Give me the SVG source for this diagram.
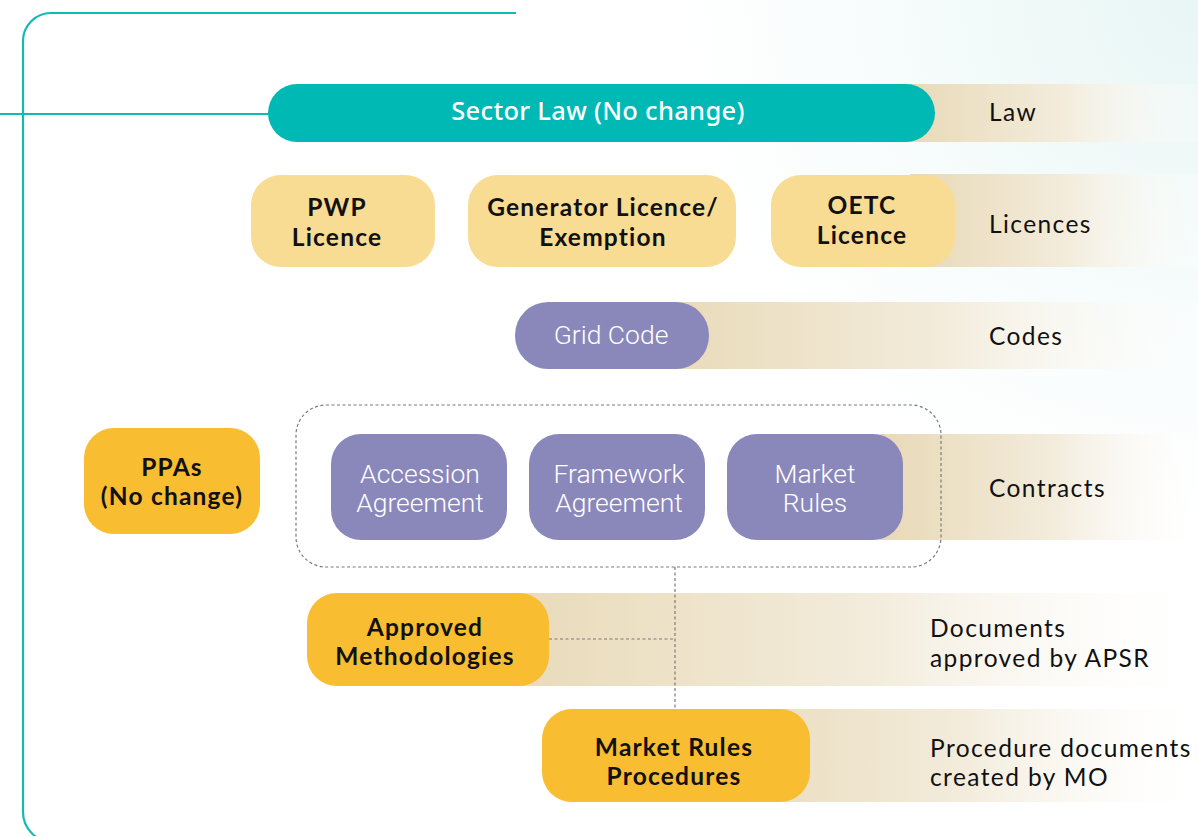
<svg xmlns="http://www.w3.org/2000/svg" width="1198" height="836" viewBox="0 0 1198 836">
  <defs>
    <radialGradient id="bgGlow" cx="1198" cy="0" r="520" gradientUnits="userSpaceOnUse">
      <stop offset="0" stop-color="#e8f6f5"/>
      <stop offset="0.6" stop-color="#f7fcfc"/>
      <stop offset="1" stop-color="#ffffff"/>
    </radialGradient>
    <linearGradient id="band" x1="0" y1="0" x2="1" y2="0">
      <stop offset="0" stop-color="#e8d9b6"/>
      <stop offset="0.55" stop-color="#f3ecdc"/>
      <stop offset="1" stop-color="#ffffff" stop-opacity="0.2"/>
    </linearGradient>
    <style>
      .frame { fill: none; stroke: #14b9b4; stroke-width: 2.2; }
      .band { fill: url(#band); }
      .law { fill: #00b9b5; }
      .lic { fill: #f8dc94; }
      .purple { fill: #8a88bb; }
      .gold { fill: #f8bd30; }
      .dash { fill: none; stroke: #7a7a7a; stroke-width: 1.2; stroke-dasharray: 3 2.5; }
      text { font-family: Lato, "Noto Sans", sans-serif; text-anchor: middle; dominant-baseline: central; }
      .tw { fill: #ffffff; font-family: "Noto Sans", sans-serif; font-size: 25.5px; font-weight: 500; letter-spacing: 0.3px; }
      .tb { fill: #111111; font-size: 24.5px; font-weight: 700; letter-spacing: 1.2px; }
      .tp { fill: #ffffff; font-family: Roboto, "Noto Sans", sans-serif; font-size: 26.5px; font-weight: 300; }
      .lab { fill: #111111; font-size: 24.5px; letter-spacing: 1.4px; text-anchor: start; }
    </style>
  </defs>

  <rect width="1198" height="836" fill="url(#bgGlow)"/>

  <!-- outer frame and lead-in rule -->
  <g id="frame">
    <path class="frame" d="M516,13 H51 A28,28 0 0 0 23,41 V812 A30,30 0 0 0 53,842"/>
    <line class="frame" x1="0" y1="114" x2="270" y2="114"/>
  </g>

  <!-- tier bands with tier labels -->
  <g id="tiers">
    <rect class="band" x="900" y="84" width="298" height="58"/>
    <rect class="band" x="910" y="174" width="288" height="93"/>
    <rect class="band" x="640" y="302" width="558" height="67"/>
    <rect class="band" x="880" y="434" width="318" height="106"/>
    <rect class="band" x="480" y="593" width="718" height="93"/>
    <rect class="band" x="680" y="709" width="518" height="93"/>
    <text class="lab" x="989" y="111">Law</text>
    <text class="lab" x="989" y="223">Licences</text>
    <text class="lab" x="989" y="335">Codes</text>
    <text class="lab" x="989" y="487">Contracts</text>
    <text class="lab" x="930" y="627">Documents</text>
    <text class="lab" x="930" y="657">approved by APSR</text>
    <text class="lab" x="930" y="747">Procedure documents</text>
    <text class="lab" x="930" y="776">created by MO</text>
  </g>

  <!-- connectors -->
  <g id="connectors">
    <rect class="dash" x="296" y="405" width="645" height="162" rx="30"/>
    <line class="dash" x1="675" y1="567" x2="675" y2="709"/>
    <line class="dash" x1="549" y1="639" x2="675" y2="639"/>
  </g>

  <g id="sector-law">
    <rect class="law" x="268" y="84" width="667" height="58" rx="29"/>
    <text class="tw" x="598" y="110">Sector Law (No change)</text>
  </g>

  <g id="pwp-licence">
    <rect class="lic" x="251" y="175" width="184" height="92" rx="30"/>
    <text class="tb" x="337" y="206">PWP</text>
    <text class="tb" x="337" y="236">Licence</text>
  </g>

  <g id="generator-licence">
    <rect class="lic" x="468" y="175" width="268" height="92" rx="30"/>
    <text class="tb" x="603" y="206">Generator Licence/</text>
    <text class="tb" x="603" y="236">Exemption</text>
  </g>

  <g id="oetc-licence">
    <rect class="lic" x="771" y="175" width="184" height="92" rx="30"/>
    <text class="tb" x="862" y="204">OETC</text>
    <text class="tb" x="862" y="234">Licence</text>
  </g>

  <g id="grid-code">
    <rect class="purple" x="515" y="302" width="194" height="67" rx="33"/>
    <text class="tp" x="611" y="334">Grid Code</text>
  </g>

  <g id="ppas">
    <rect class="gold" x="84" y="428" width="176" height="106" rx="30"/>
    <text class="tb" x="172" y="466">PPAs</text>
    <text class="tb" x="172" y="495">(No change)</text>
  </g>

  <g id="accession-agreement">
    <rect class="purple" x="331" y="434" width="176" height="106" rx="30"/>
    <text class="tp" x="420" y="473">Accession</text>
    <text class="tp" x="420" y="502">Agreement</text>
  </g>

  <g id="framework-agreement">
    <rect class="purple" x="529" y="434" width="176" height="106" rx="30"/>
    <text class="tp" x="619" y="473">Framework</text>
    <text class="tp" x="619" y="502">Agreement</text>
  </g>

  <g id="market-rules">
    <rect class="purple" x="727" y="434" width="176" height="106" rx="30"/>
    <text class="tp" x="815" y="473">Market</text>
    <text class="tp" x="815" y="502">Rules</text>
  </g>

  <g id="approved-methodologies">
    <rect class="gold" x="307" y="593" width="242" height="93" rx="30"/>
    <text class="tb" x="425" y="626">Approved</text>
    <text class="tb" x="425" y="655">Methodologies</text>
  </g>

  <g id="market-rules-procedures">
    <rect class="gold" x="542" y="709" width="268" height="93" rx="30"/>
    <text class="tb" x="674" y="746">Market Rules</text>
    <text class="tb" x="674" y="775">Procedures</text>
  </g>
</svg>
